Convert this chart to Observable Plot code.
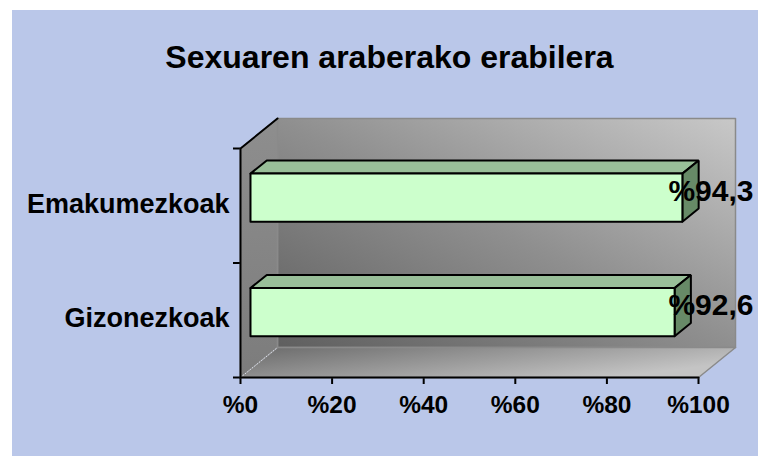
<!DOCTYPE html>
<html>
<head>
<meta charset="utf-8">
<script src="https://cdn.jsdelivr.net/npm/d3@7"></script>
<script src="https://cdn.jsdelivr.net/npm/@observablehq/plot@0.6"></script>
<style>
  html, body { margin: 0; padding: 0; background: #ffffff; }
  #panel { position: absolute; left: 12px; top: 10px; width: 746px; height: 446px;
           background: #BAC7E9; font-family: "Liberation Sans", Arial, sans-serif; }
  #title { height: 80px; box-sizing: border-box; padding-top: 30px; padding-left: 9px;
           line-height: 34px; font-size: 32px; font-weight: bold; text-align: center; color: #000; }
  #chart svg { display: block; }
  g[aria-label$="-axis tick"] { stroke-width: 2px; }
</style>
</head>
<body>
<div id="panel">
  <div id="title">Sexuaren araberako erabilera</div>
  <div id="chart"></div>
</div>
<script>
// ---- data ----
const categories = ["Gizonezkoak", "Emakumezkoak"];
const values = [92.6, 94.3];
const valueLabels = ["%92,6", "%94,3"];
const xTicks = [0, 20, 40, 60, 80, 100];
const xTickLabels = ["%0", "%20", "%40", "%60", "%80", "%100"];

// ---- geometry (3D depth expressed in data units) ----
const W = 746, H = 366;
const mL = 228, mR = 60, mT = 58, mB = 79;
const xPerPx = 100 / (W - mL - mR);
const yPerPx = categories.length / (H - mT - mB);
const DX = 37 * xPerPx;   // depth offset to the right
const DY = 30 * yPerPx;   // depth offset upward
const BAR_LO = 0.29, BAR_HI = 0.71;   // bar thickness within band
const F1 = 0.27, F2 = 0.71;           // bar depth range within wall depth
const NY = categories.length;

function poly(id, pts) {
  const c = pts.concat([pts[0]]);
  return c.map(([x, y]) => ({id, x, y}));
}

const backWall = poly("back", [[DX, DY], [100 + DX, DY], [100 + DX, NY + DY], [DX, NY + DY]]);
const leftWall = poly("left", [[0, 0], [0, NY], [DX, NY + DY], [DX, DY]]);
const floor = poly("floor", [[0, 0], [100, 0], [100 + DX, DY], [DX, DY]]);

const fronts = [], tops = [], sides = [];
values.forEach((v, i) => {
  const y1 = i + BAR_LO, y2 = i + BAR_HI;
  const a = F1, b = F2;
  fronts.push(...poly("f" + i, [[a * DX, y1 + a * DY], [v + a * DX, y1 + a * DY], [v + a * DX, y2 + a * DY], [a * DX, y2 + a * DY]]));
  tops.push(...poly("t" + i, [[a * DX, y2 + a * DY], [v + a * DX, y2 + a * DY], [v + b * DX, y2 + b * DY], [b * DX, y2 + b * DY]]));
  sides.push(...poly("s" + i, [[v + a * DX, y1 + a * DY], [v + b * DX, y1 + b * DY], [v + b * DX, y2 + b * DY], [v + a * DX, y2 + a * DY]]));
});

const yAxisLine = [{x: 0, y: 0}, {x: 0, y: NY}, {x: DX, y: NY + DY}];
const xAxisLine = [{x: 0, y: 0}, {x: 100, y: 0}];
const floorDiag = [{x: 0, y: 0}, {x: DX, y: DY}];

function defsMark() {
  const defs = d3.create("svg:defs");
  const g1 = defs.append("linearGradient").attr("id", "gBack")
    .attr("x1", 0).attr("y1", 1).attr("x2", 1).attr("y2", 0);
  g1.append("stop").attr("offset", 0).attr("stop-color", "#5f5f5f");
  g1.append("stop").attr("offset", 0.5).attr("stop-color", "#8f8f8f");
  g1.append("stop").attr("offset", 1).attr("stop-color", "#c8c8c8");
  const g2 = defs.append("linearGradient").attr("id", "gFloor")
    .attr("x1", 0).attr("y1", 0).attr("x2", 1).attr("y2", 0.5);
  g2.append("stop").attr("offset", 0).attr("stop-color", "#6a6a6a");
  g2.append("stop").attr("offset", 1).attr("stop-color", "#c4c4c4");
  const g3 = defs.append("linearGradient").attr("id", "gLeft")
    .attr("x1", 0).attr("y1", 0).attr("x2", 0).attr("y2", 1);
  g3.append("stop").attr("offset", 0).attr("stop-color", "#8e8e8e");
  g3.append("stop").attr("offset", 1).attr("stop-color", "#7c7c7c");
  return defs.node();
}

const plot = Plot.plot({
  width: W, height: H,
  marginLeft: mL, marginRight: mR, marginTop: mT, marginBottom: mB,
  style: {background: "transparent", overflow: "visible", fontFamily: "Liberation Sans, Arial, sans-serif", color: "#000"},
  x: {domain: [0, 100], ticks: xTicks, tickSize: 7, tickFormat: () => "", label: null},
  y: {domain: [0, NY], ticks: d3.range(NY + 1), tickSize: 7, tickFormat: () => "", label: null},
  marks: [
    defsMark,
    Plot.line(backWall, {x: "x", y: "y", z: "id", fill: "url(#gBack)", stroke: "#8a8a8a", strokeWidth: 1.5}),
    Plot.line(floor, {x: "x", y: "y", z: "id", fill: "url(#gFloor)", stroke: "#8a8a8a", strokeWidth: 1.5}),
    Plot.line(leftWall, {x: "x", y: "y", z: "id", fill: "url(#gLeft)", stroke: "#8a8a8a", strokeWidth: 1.5}),
    Plot.line(floorDiag, {x: "x", y: "y", stroke: "#e0e4f0", strokeWidth: 1, strokeDasharray: "1,2"}),
    Plot.line(tops, {x: "x", y: "y", z: "id", fill: "#99BF99", stroke: "#000", strokeWidth: 2, strokeLinejoin: "miter"}),
    Plot.line(sides, {x: "x", y: "y", z: "id", fill: "#678A67", stroke: "#000", strokeWidth: 2, strokeLinejoin: "miter"}),
    Plot.line(fronts, {x: "x", y: "y", z: "id", fill: "#CCFFCC", stroke: "#000", strokeWidth: 2, strokeLinejoin: "miter"}),
    Plot.line(yAxisLine, {x: "x", y: "y", stroke: "#000", strokeWidth: 2}),
    Plot.line(xAxisLine, {x: "x", y: "y", stroke: "#000", strokeWidth: 2}),
    Plot.text(xTicks, {x: d => d, y: () => 0, text: (d, i) => xTickLabels[i], dy: 27.5,
      fontSize: 24.5, fontWeight: "bold", fill: "#000", ariaLabel: "xlabels"}),
    Plot.text(categories, {x: () => 0, y: (d, i) => i + 0.5, text: d => d, textAnchor: "end",
      dx: -11, dy: -1.5, fontSize: 27, fontWeight: "bold", fill: "#000", ariaLabel: "ylabels"}),
    Plot.text(values, {x: () => 100, y: (d, i) => i + 0.5, text: (d, i) => valueLabels[i], textAnchor: "end",
      dx: 55, dy: -14.5, fontSize: 30, fontWeight: "bold", fill: "#000", ariaLabel: "vlabels"})
  ]
});

function stretch(sel, k) {
  sel.each(function () {
    const t = this.getAttribute("transform");
    if (t) this.setAttribute("transform", t + ` scale(1,${k})`);
    else {
      const x = +this.getAttribute("x") || 0, y = +this.getAttribute("y") || 0;
      this.removeAttribute("x"); this.removeAttribute("y");
      this.setAttribute("transform", `translate(${x},${y}) scale(1,${k})`);
    }
  });
}
const s = d3.select(plot);
stretch(s.selectAll('g[aria-label="xlabels"] text'), 1.12);
stretch(s.selectAll('g[aria-label="ylabels"] text'), 1.11);
s.selectAll('g[aria-label="vlabels"] text').style("letter-spacing", "0.8px");

document.getElementById("chart").appendChild(plot);
</script>
</body>
</html>
